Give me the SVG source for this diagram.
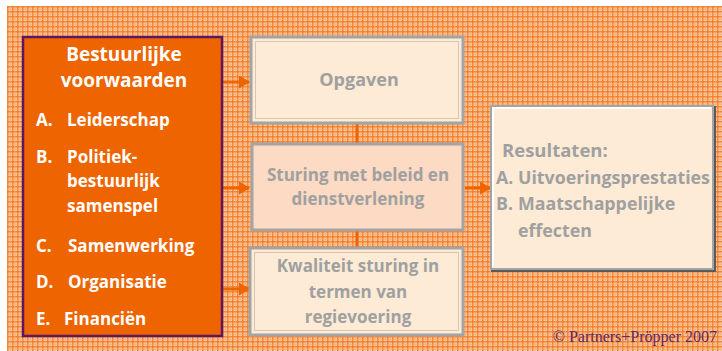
<svg xmlns="http://www.w3.org/2000/svg" width="722" height="351" viewBox="0 0 722 351">
  <defs>
    <pattern id="plaid" x="7" y="6" width="5" height="5" patternUnits="userSpaceOnUse">
      <rect width="5" height="5" fill="#fbcfab"/>
      <rect x="0" y="0" width="1.5" height="5" fill="#f47f2c"/>
      <rect x="0" y="0" width="5" height="1.5" fill="#f47f2c"/>
      <rect x="2.8" y="0" width="0.7" height="5" fill="#f7a566"/>
      <rect x="0" y="2.8" width="5" height="0.7" fill="#f7a566"/>
    </pattern>
    <marker id="arr" markerWidth="11" markerHeight="13" refX="10" refY="6.5" orient="auto" markerUnits="userSpaceOnUse">
      <path d="M0,0 L11,6.5 L0,13 Z" fill="#ee6400"/>
    </marker>
  </defs>
  <style>
    .lt { font-family: "Open Sans", Lato, sans-serif; font-weight: bold; fill: #ffffff; }
    .gt { font-family: "Open Sans", Lato, sans-serif; font-weight: bold; fill: #a0a0a0; }
    .mid { stroke: #a4a4a4; stroke-width: 3; }
    .bev { fill: none; stroke: #d9c5b3; stroke-width: 1; }
    .con { stroke: #ee6400; stroke-width: 3; fill: none; }
  </style>

  <rect x="7" y="6" width="715" height="345" fill="url(#plaid)"/>

  <g id="connectors">
    <line class="con" x1="223" y1="82" x2="249" y2="82" marker-end="url(#arr)"/>
    <line class="con" x1="223" y1="188" x2="249" y2="188" marker-end="url(#arr)"/>
    <line class="con" x1="223" y1="289" x2="249" y2="289" marker-end="url(#arr)"/>
    <line class="con" x1="465" y1="188" x2="490" y2="188" marker-end="url(#arr)"/>
    <line class="con" x1="357" y1="124" x2="357" y2="143"/>
    <line class="con" x1="357" y1="231" x2="357" y2="247"/>
  </g>

  <g id="voorwaarden">
    <rect x="23" y="37" width="199" height="299" fill="#ee6400" stroke="#5c1760" stroke-width="2.5"/>
    <text class="lt" x="124" y="61" font-size="19" text-anchor="middle">Bestuurlijke</text>
    <text class="lt" x="124" y="87" font-size="19" text-anchor="middle">voorwaarden</text>
    <g font-size="17">
      <text class="lt" x="36" y="126">A.</text>
      <text class="lt" x="67" y="126">Leiderschap</text>
      <text class="lt" x="36" y="163">B.</text>
      <text class="lt" x="67" y="163">Politiek-</text>
      <text class="lt" x="67" y="187">bestuurlijk</text>
      <text class="lt" x="67" y="212">samenspel</text>
      <text class="lt" x="36" y="252">C.</text>
      <text class="lt" x="68" y="252">Samenwerking</text>
      <text class="lt" x="36" y="288">D.</text>
      <text class="lt" x="68" y="288">Organisatie</text>
      <text class="lt" x="36" y="325">E.</text>
      <text class="lt" x="64" y="325">Financiën</text>
    </g>
  </g>

  <g id="opgaven">
    <rect class="mid" x="251" y="37" width="212" height="86" fill="#fdebd6"/>
    <rect class="bev" x="255.5" y="41.5" width="203" height="77"/>
    <text class="gt" x="359" y="86" font-size="18" text-anchor="middle">Opgaven</text>
  </g>

  <g id="sturing">
    <rect class="mid" x="252" y="144" width="211" height="86" fill="#fcdac3"/>
    <text class="gt" x="358" y="181" font-size="17" text-anchor="middle">Sturing met beleid en</text>
    <text class="gt" x="358" y="205" font-size="17" text-anchor="middle">dienstverlening</text>
  </g>

  <g id="kwaliteit">
    <rect class="mid" x="250" y="248" width="213" height="87" fill="#fdebd6"/>
    <rect class="bev" x="254.5" y="252.5" width="204" height="78"/>
    <text class="gt" x="358" y="272" font-size="17" text-anchor="middle">Kwaliteit sturing in</text>
    <text class="gt" x="358" y="298" font-size="17" text-anchor="middle">termen van</text>
    <text class="gt" x="358" y="323" font-size="17" text-anchor="middle">regievoering</text>
  </g>

  <g id="resultaten">
    <rect x="491" y="106" width="225" height="166" fill="#5a5a5a"/>
    <rect x="491" y="106" width="222" height="163" fill="#fdebd6" stroke="#a4a4a4" stroke-width="2"/>
    <path d="M493,267 L493,108 L711,108" fill="none" stroke="#ffffff" stroke-width="2"/>
    <text class="gt" x="502" y="157" font-size="18.5">Resultaten:</text>
    <text class="gt" x="496" y="184" font-size="17.8">A.</text>
    <text class="gt" x="518" y="184" font-size="17.8">Uitvoeringsprestaties</text>
    <text class="gt" x="496" y="210" font-size="17.8">B.</text>
    <text class="gt" x="518" y="210" font-size="17.8">Maatschappelijke</text>
    <text class="gt" x="518" y="237" font-size="17.8">effecten</text>
  </g>

  <text x="717" y="342" font-family="'Liberation Serif', serif" font-size="16" fill="#5c2a6e" text-anchor="end">© Partners+Pröpper 2007</text>
</svg>
